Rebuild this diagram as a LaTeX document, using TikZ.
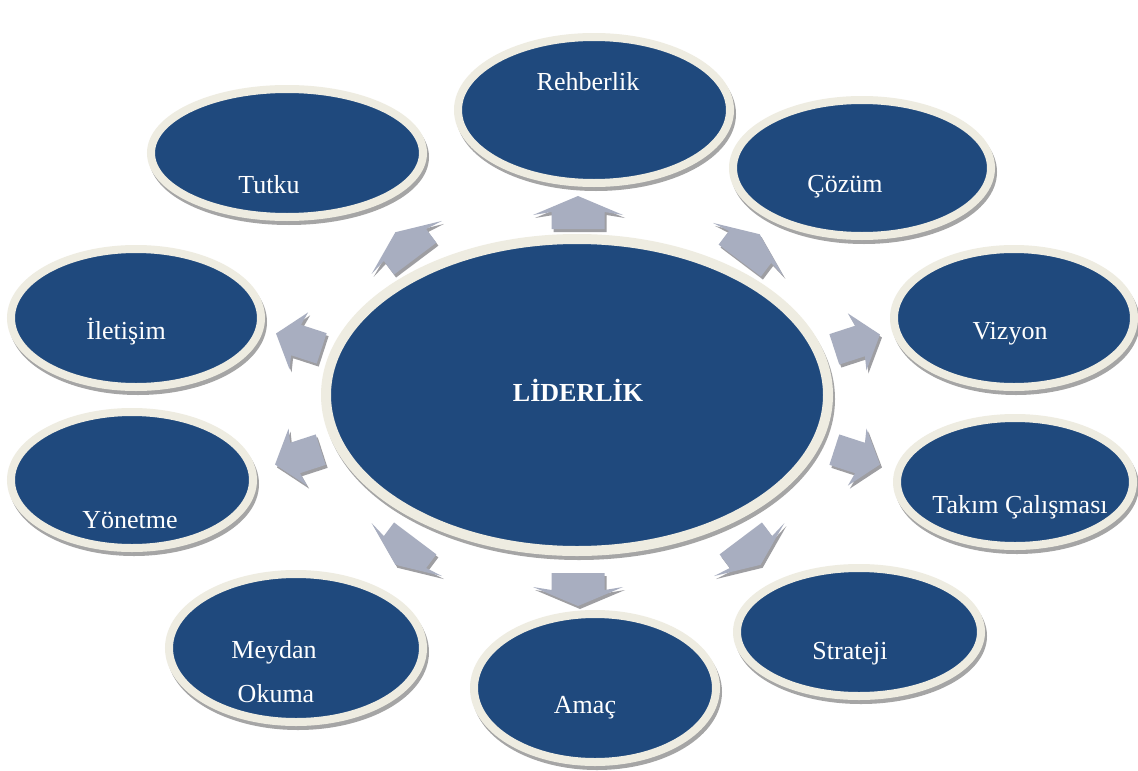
\documentclass[tikz,border=0pt]{standalone}
\usepackage{fontspec}
\setmainfont{Liberation Serif}
\usetikzlibrary{shapes.geometric}
\definecolor{dblue}{RGB}{31,73,125}
\definecolor{cream}{RGB}{238,236,225}
\definecolor{shgray}{RGB}{165,165,165}
\definecolor{arrfill}{RGB}{168,174,192}
\definecolor{arrsh}{RGB}{158,158,162}
\tikzset{
  bubble/.style={ellipse, fill=dblue, draw=cream, line width=8pt, inner sep=0pt,
    preaction={draw=shgray, fill=shgray, transform canvas={shift={(2pt,-4pt)}}}},
  lbl/.style={text=white, font=\fontsize{26}{30}\selectfont, inner sep=0pt, anchor=base},
  arrbody/.style={fill=arrfill},
  arrshade/.style={fill=arrsh},
}
% #1,#2 centre of head base; #3 angle; #4 stem length; #5 stem half width; #6 head half width; #7 head length
\newcommand\arrowpath[4]{(-#1,-#2) -- (0,-#2) -- (-3,-#3) -- (#4,0) -- (-3,#3) -- (0,#2) -- (-#1,#2) -- cycle}
\newcommand\blkarrow[7]{%
  \fill[arrshade, shift={(#1+2,#2+3)}, rotate=#3] \arrowpath{#4}{#5}{#6}{#7};
  \fill[arrbody, shift={(#1,#2)}, rotate=#3] \arrowpath{#4}{#5}{#6}{#7};}
\begin{document}
\begin{tikzpicture}[x=1pt, y=-1pt]
\useasboundingbox[fill=white] (0,0) rectangle (1138,771);
% outer bubbles
\node[bubble, minimum width=272pt, minimum height=146pt] (reh) at (594,110) {};
\node[bubble, minimum width=272pt, minimum height=128pt] (tut) at (287,153) {};
\node[bubble, minimum width=258pt, minimum height=136pt] (coz) at (862,168) {};
\node[bubble, minimum width=250pt, minimum height=138pt] (ile) at (136,318) {};
\node[bubble, minimum width=240pt, minimum height=138pt] (viz) at (1014,318) {};
\node[bubble, minimum width=242pt, minimum height=136pt] (yon) at (132,480) {};
\node[bubble, minimum width=236pt, minimum height=128pt] (tak) at (1015,482) {};
\node[bubble, minimum width=254pt, minimum height=148pt] (mey) at (296,648) {};
\node[bubble, minimum width=244pt, minimum height=128pt] (str) at (859,632) {};
\node[bubble, minimum width=242pt, minimum height=148pt] (ama) at (595,688) {};
% centre
\node[bubble, line width=10pt, minimum width=502pt, minimum height=312pt] (lid) at (577,395) {};
% arrows
\blkarrow{578}{212}{90}{17}{26.5}{45}{16}
\blkarrow{405}{245}{127}{17}{26.5}{44}{16}
\blkarrow{750}{247}{53}{17}{26.5}{44}{16}
\blkarrow{296}{340}{162}{27}{16}{30}{21}
\blkarrow{860}{341}{18}{27}{16}{30}{21}
\blkarrow{295}{458}{198}{27}{16}{30}{21}
\blkarrow{860}{458}{342}{27}{16}{30}{21}
\blkarrow{405}{552}{233}{17}{26.5}{44}{16}
\blkarrow{751}{552}{307}{17}{26.5}{44}{16}
\blkarrow{578}{590}{270}{17}{26.5}{45}{16}
% labels
\node[lbl] (treh) at (588,90) {Rehberlik};
\node[lbl] (ttut) at (269,193) {Tutku};
\node[lbl] (tcoz) at (845,192) {Çözüm};
\node[lbl] (tile) at (126,339) {İletişim};
\node[lbl] (tviz) at (1010,339) {Vizyon};
\node[lbl] (tyon) at (130,528) {Yönetme};
\node[lbl] (ttak) at (1020,513) {Takım Çalışması};
\node[lbl] (tmey1) at (274,658) {Meydan};
\node[lbl] (tmey2) at (276,702) {Okuma};
\node[lbl] (tstr) at (850,659) {Strateji};
\node[lbl] (tama) at (585,713) {Amaç};
\node[lbl, font=\fontsize{26}{30}\selectfont\bfseries] (tlid) at (578,401) {LİDERLİK};
\end{tikzpicture}
\end{document}
